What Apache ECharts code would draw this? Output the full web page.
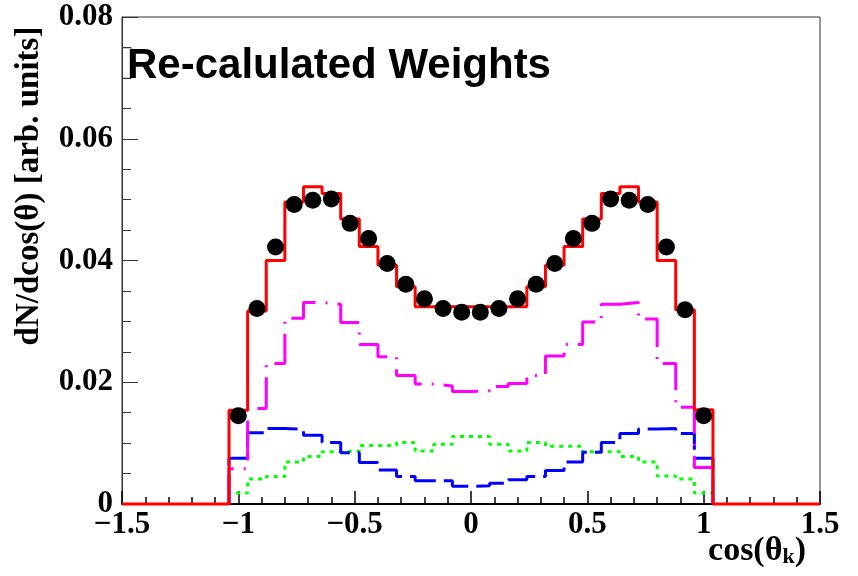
<!DOCTYPE html>
<html>
<head>
<meta charset="utf-8">
<script src="https://cdn.jsdelivr.net/npm/echarts@6/dist/echarts.min.js"></script>
<style>
  html, body { margin: 0; padding: 0; background: #fff; }
  #chart { width: 858px; height: 576px; }
</style>
</head>
<body>
<div id="chart"></div>
<script>
// bin centres of the cos(theta_k) histogram, width 0.08
const binCenters = [-1.00, -0.92, -0.84, -0.76, -0.68, -0.60, -0.52, -0.44, -0.36, -0.28, -0.20, -0.12, -0.04,
    0.04, 0.12, 0.20, 0.28, 0.36, 0.44, 0.52, 0.60, 0.68, 0.76, 0.84, 0.92, 1.00]
const binWidth = 0.08

// black points (data)
const dataPoints = [0.0145, 0.0321, 0.0422, 0.0492, 0.0499, 0.0501, 0.0461, 0.0436, 0.0395, 0.0361, 0.0337, 0.0321, 0.0315,
    0.0315, 0.0321, 0.0337, 0.0361, 0.0395, 0.0436, 0.0461, 0.0501, 0.0499, 0.0492, 0.0422, 0.0319, 0.0145]
// red solid total
const totalHist = [0.0154, 0.0317, 0.0400, 0.0496, 0.0521, 0.0510, 0.0468, 0.0423, 0.0392, 0.0357, 0.0324, 0.0324, 0.0324,
    0.0324, 0.0324, 0.0324, 0.0357, 0.0392, 0.0423, 0.0468, 0.0510, 0.0521, 0.0496, 0.0400, 0.0319, 0.0155]
// magenta dash-dot
const magentaHist = [0.0058, 0.0157, 0.0231, 0.0305, 0.0331, 0.0328, 0.0298, 0.0262, 0.0242, 0.0211, 0.0197, 0.0194, 0.0185,
    0.0186, 0.0193, 0.0198, 0.0211, 0.0243, 0.0262, 0.0299, 0.0328, 0.0331, 0.0304, 0.0231, 0.0159, 0.0060]
// blue dashed
const blueHist = [0.0075, 0.0117, 0.0124, 0.0123, 0.0113, 0.0101, 0.0084, 0.0068, 0.0056, 0.0045, 0.0038, 0.0038, 0.0029,
    0.0030, 0.0034, 0.0040, 0.0045, 0.0055, 0.0069, 0.0085, 0.0101, 0.0116, 0.0123, 0.0124, 0.0116, 0.0075]
// green dotted
const greenHist = [0.0018, 0.0041, 0.0045, 0.0069, 0.0078, 0.0086, 0.0087, 0.0096, 0.0096, 0.0101, 0.0087, 0.0098, 0.0111,
    0.0111, 0.0098, 0.0087, 0.0101, 0.0095, 0.0095, 0.0086, 0.0086, 0.0078, 0.0069, 0.0046, 0.0041, 0.0018]

const xRange = [-1.5, 1.5]
const yRange = [0, 0.08]

const serif = 'Liberation Serif'

// turn bin contents into step points (low edge of every bin, then back to 0)
function toSteps(values, from, to) {
    const pts = [[from, 0]]
    values.forEach((v, i) => pts.push([binCenters[i] - binWidth / 2, v]))
    pts.push([binCenters[values.length - 1] + binWidth / 2, 0])
    if (to !== undefined) pts.push([to, 0])
    return pts
}

function histSeries(name, values, color, dash, from, to) {
    return {
        name: name,
        type: 'line',
        step: 'end',
        data: toSteps(values, from, to),
        showSymbol: false,
        clip: false,
        lineStyle: { color: color, width: 3, type: dash },
        silent: true,
    }
}

const firstEdge = binCenters[0] - binWidth / 2

const option = {
    animation: false,
    grid: {
        left: 122, right: 38, top: 17, bottom: 72,
        show: true, borderColor: '#333', borderWidth: 1,
    },
    xAxis: {
        type: 'value',
        min: xRange[0], max: xRange[1], interval: 0.5,
        axisLine: { show: true, onZero: false, lineStyle: { color: '#000', width: 2 } },
        axisTick: { show: true, inside: true, length: 13, lineStyle: { color: '#000', width: 1.5 } },
        minorTick: { show: true, splitNumber: 5, length: 7, lineStyle: { color: '#000', width: 1.5 } },
        splitLine: { show: false },
        axisLabel: {
            margin: 5,
            fontFamily: serif, fontWeight: 'bold', fontSize: 31, color: '#000',
            formatter: v => (v < 0 ? '\u2212' : '') + Math.abs(v),
        },
    },
    yAxis: {
        type: 'value',
        min: yRange[0], max: yRange[1], interval: 0.02,
        axisLine: { show: true, onZero: false, lineStyle: { color: '#333', width: 1 } },
        axisTick: { show: true, inside: true, length: 16, lineStyle: { color: '#333', width: 1 } },
        minorTick: { show: true, splitNumber: 4, length: 9, lineStyle: { color: '#333', width: 1 } },
        splitLine: { show: false },
        axisLabel: {
            margin: 9,
            fontFamily: serif, fontWeight: 'bold', fontSize: 31, color: '#000',
            formatter: v => (v === 0 ? '0' : v.toFixed(2)),
        },
    },
    series: [
        histSeries('green', greenHist, '#00ff00', [4, 5], firstEdge),
        histSeries('blue', blueHist, '#0000ff', [30, 8], firstEdge),
        histSeries('magenta', magentaHist, '#ff00ff', [40, 10, 2, 10], firstEdge),
        histSeries('total', totalHist, '#ff0000', 'solid', xRange[0], xRange[1]),
        {
            name: 'data',
            type: 'scatter',
            data: binCenters.map((c, i) => [c, dataPoints[i]]),
            symbol: 'circle',
            symbolSize: 17,
            itemStyle: { color: '#000', opacity: 1 },
            z: 5,
        },
    ],
    graphic: [
        {
            type: 'rect',
            shape: { x: 122, y: 48, width: 10, height: 30 },
            style: { fill: 'none', stroke: '#999', lineWidth: 1 },
        },
        {
            type: 'text',
            left: 127, top: 45,
            style: {
                text: 'Re-calulated Weights',
                font: 'bold 42px "Liberation Sans"',
                fill: '#000',
            },
        },
        {
            type: 'text',
            x: 29, y: 186,
            rotation: Math.PI / 2,
            style: {
                text: 'dN/dcos(\u03b8) [arb. units]',
                font: 'bold 33px "Liberation Serif"',
                fill: '#000',
                align: 'center',
                verticalAlign: 'middle',
            },
        },
        {
            type: 'text',
            right: 52, top: 534,
            style: {
                text: '{a|cos(\u03b8}{s|k}{a|)}',
                rich: {
                    a: { font: 'bold 34px "Liberation Serif"', fill: '#000', verticalAlign: 'bottom' },
                    s: { font: 'bold 22px "Liberation Serif"', fill: '#000', padding: [16, 0, 0, 0] },
                },
            },
        },
    ],
}

const chart = echarts.init(document.getElementById('chart'))
chart.setOption(option)
</script>
</body>
</html>
